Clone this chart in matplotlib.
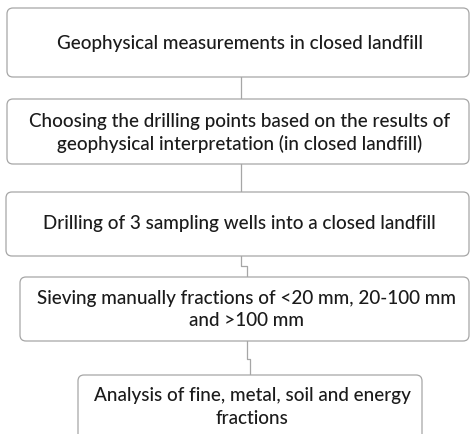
import matplotlib.pyplot as plt
from matplotlib.patches import FancyBboxPatch

# flowchart steps (text per box)
steps = [
    "Geophysical measurements in closed landfill",
    "Choosing the drilling points based on the results of\ngeophysical interpretation (in closed landfill)",
    "Drilling of 3 sampling wells into a closed landfill",
    "Sieving manually fractions of <20 mm, 20-100 mm\nand >100 mm",
    "Analysis of fine, metal, soil and energy\nfractions",
]

# box geometry in pixels: left, top, right, bottom
box_left = [7, 7, 6, 20, 78]
box_top = [8, 99, 192, 277, 375]
box_right = [469, 469, 469, 469, 422]
box_bottom = [77, 164, 256, 341, 450]
text_y = [43, 133, 224, 309.5, 407]

# connectors: x at start, y of jog, x at end
conn_x0 = [240.5, 240.5, 240.5, 246.7]
conn_jog = [88, 178, 266, 359]
conn_x1 = [240.5, 240.5, 247.3, 250]

edge = "#a6a6a6"
txt = "#1b1b1b"

fig = plt.figure(figsize=(4.7, 4.34), dpi=100)
ax = fig.add_axes([0, 0, 1, 1])
ax.set_xlim(0, 470)
ax.set_ylim(434, 0)
ax.axis("off")

for i, s in enumerate(steps):
    w = box_right[i] - box_left[i]
    h = box_bottom[i] - box_top[i]
    ax.add_patch(FancyBboxPatch((box_left[i], box_top[i]), w, h,
                                boxstyle="round,pad=0,rounding_size=6",
                                fc="white", ec=edge, lw=0.9))
    cx = (box_left[i] + box_right[i]) / 2 + 2
    ax.text(cx, text_y[i], s, ha="center", va="center", color=txt,
            fontsize=13.6, family="Lato", fontweight="medium",
            linespacing=1.38)

for i in range(len(conn_x0)):
    y0 = box_bottom[i]
    y1 = box_top[i + 1]
    ax.plot([conn_x0[i], conn_x0[i], conn_x1[i], conn_x1[i]],
            [y0, conn_jog[i], conn_jog[i], y1], color=edge, lw=0.9,
            zorder=0)

fig.savefig("out.png", dpi=100)
